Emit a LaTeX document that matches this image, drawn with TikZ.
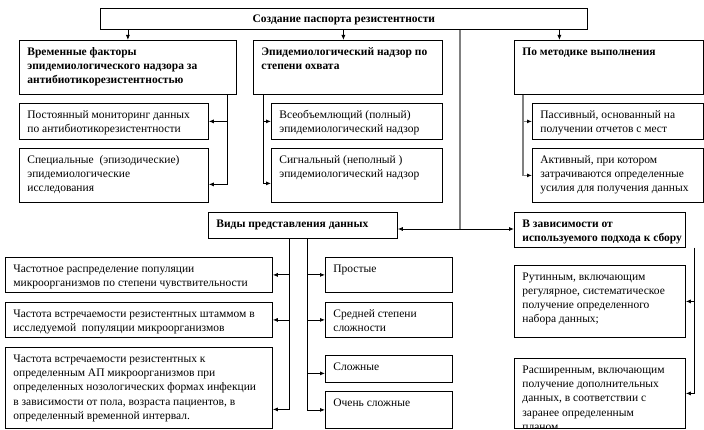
\documentclass[tikz,border=0pt]{standalone}
\usepackage{fontspec}
\setmainfont{Liberation Serif}
\usetikzlibrary{arrows.meta}
\newcommand\mkbox[7][]{%
  \node[box,#1] (#2) at (#3,#4) {\parbox[c][#6pt][t]{#5pt}{\raggedright\leftskip=8pt\rule{0pt}{15pt}#7}};}
\tikzset{
  box/.style={draw, line width=0.8pt, anchor=north west, inner xsep=0pt, inner ysep=0pt,
    font=\fontsize{11.5}{14.2}\selectfont},
  bf/.style={font=\fontsize{11.5}{14.2}\selectfont\bfseries},
  arr/.style={line width=0.8pt, -{Latex[length=5pt,width=4pt]}},
  barr/.style={line width=0.8pt, {Latex[length=5pt,width=4pt]}-{Latex[length=5pt,width=4pt]}},
  garr/.style={line width=1.2pt, draw=gray, -{Latex[length=5pt,width=4pt,color=black]}},
  gline/.style={line width=1.4pt, draw=gray}
}
\begin{document}
\begin{tikzpicture}[x=1pt,y=-1pt]
\useasboundingbox (0,0) rectangle (704,430);
% top
\node[box, bf] (top) at (100,8) {\parbox[c][21pt][t]{487pt}{\centering\rule{0pt}{14pt}Создание паспорта резистентности}};
% level 1
\mkbox[bf]{A}{19}{40}{217}{54}{Временные факторы\\эпидемиологического надзора за\\антибиотикорезистентностью}
\mkbox[bf]{B}{253}{40}{189}{54}{Эпидемиологический надзор по\\степени охвата}
\mkbox[bf]{C}{514}{40}{189}{54}{По методике выполнения}
% children
\mkbox{A1}{19}{103}{189}{36}{Постоянный мониторинг данных\\по антибиотикорезистентности}
\mkbox{A2}{19}{148}{189}{54}{Специальные~ (эпизодические)\\эпидемиологические\\исследования}
\mkbox{B1}{271}{103}{171}{36}{Всеобъемлющий (полный)\\эпидемиологический надзор}
\mkbox{B2}{271}{148}{171}{54}{Сигнальный (неполный )\\эпидемиологический надзор}
\mkbox{C1}{532}{103}{171}{36}{Пассивный, основанный на\\получении отчетов с мест}
\mkbox{C2}{532}{148}{171}{54}{Активный, при котором\\затрачиваются определенные\\усилия для получения данных}
% level 2
\mkbox[bf]{V}{208}{212}{189}{26}{Виды представления данных}
\mkbox[bf]{Z}{514}{212}{171}{35}{В зависимости от\\используемого подхода к сбору}
\mkbox{L1}{5}{257}{267}{35}{Частотное распределение популяции\\микроорганизмов по степени чувствительности}
\mkbox{L2}{5}{302}{267}{35}{Частота встречаемости резистентных штаммом в\\исследуемой~ популяции микроорганизмов}
\mkbox{L3}{5}{347}{267}{81}{Частота встречаемости резистентных к\\определенным АП микроорганизмов при\\определенных нозологических формах инфекции\\в зависимости от пола, возраста пациентов, в\\определенный временной интервал.}
\mkbox{R1}{325}{257}{127}{35}{Простые}
\mkbox{R2}{325}{302}{127}{35}{Средней степени\\сложности}
\mkbox{R3}{325}{355}{127}{27}{Сложные}
\mkbox{R4}{325}{391}{127}{37}{Очень сложные}
\mkbox{Z1}{514}{265}{171}{72}{Рутинным, включающим\\регулярное, систематическое\\получение определенного\\набора данных;}
\begin{scope}
\clip (510,355) rectangle (690,427.2);
\mkbox[draw=none]{Z2}{514}{358}{171}{70}{Расширенным, включающим\\получение дополнительных\\данных, в соответствии с\\заранее определенным\\планом}
\end{scope}
\draw[line width=0.8pt] (Z2.north west) rectangle (Z2.south east);
% connectors from top
\draw[arr] (top.south -| A.north) -- (A.north);
\coordinate (bt) at ([xshift=-4.5pt]B.north);
\draw[arr] (top.south -| bt) -- (bt);
\coordinate (ct) at ([xshift=-49.5pt]C.north);
\draw[arr] (top.south -| ct) -- (ct);
% A
\coordinate (ad) at ([xshift=-9pt]A.south east);
\draw[arr] (ad) |- (A1.east);
\draw[arr] (ad) |- ([yshift=-9pt]A2.east);
% B
\coordinate (bd) at ([xshift=10pt]B.south west);
\draw[arr] (bd) |- (B1.west);
\draw[arr] (bd) |- ([yshift=-8pt]B2.west);
% C
\coordinate (cd) at ([xshift=9pt]C.south west);
\draw[garr] (cd) |- (C1.west);
\draw[garr] (cd) |- (C2.west);
% middle
\coordinate (mid) at (460,229);
\draw[gline] (top.south -| mid) -- (mid);
\draw[barr] (V.east |- mid) -- (Z.west |- mid);
% V
\coordinate (vl) at ([xshift=81pt]V.south west);
\draw[arr] (vl) |- (L1.east);
\draw[arr] (vl) |- (L2.east);
\draw[arr] (vl) |- ([yshift=-21.5pt]L3.east);
\coordinate (vr) at ([xshift=99pt]V.south west);
\draw[arr] (vr) |- (R1.west);
\draw[arr] (vr) |- (R2.west);
\draw[arr] (vr) |- ([yshift=-4.5pt]R3.west);
\draw[arr] (vr) |- (R4.west);
% Z
\coordinate (zd) at ([xshift=9pt]Z.south east);
\draw[arr] (zd) |- (Z1.east);
\draw[arr] (zd) |- (Z2.east);
\end{tikzpicture}
\end{document}
